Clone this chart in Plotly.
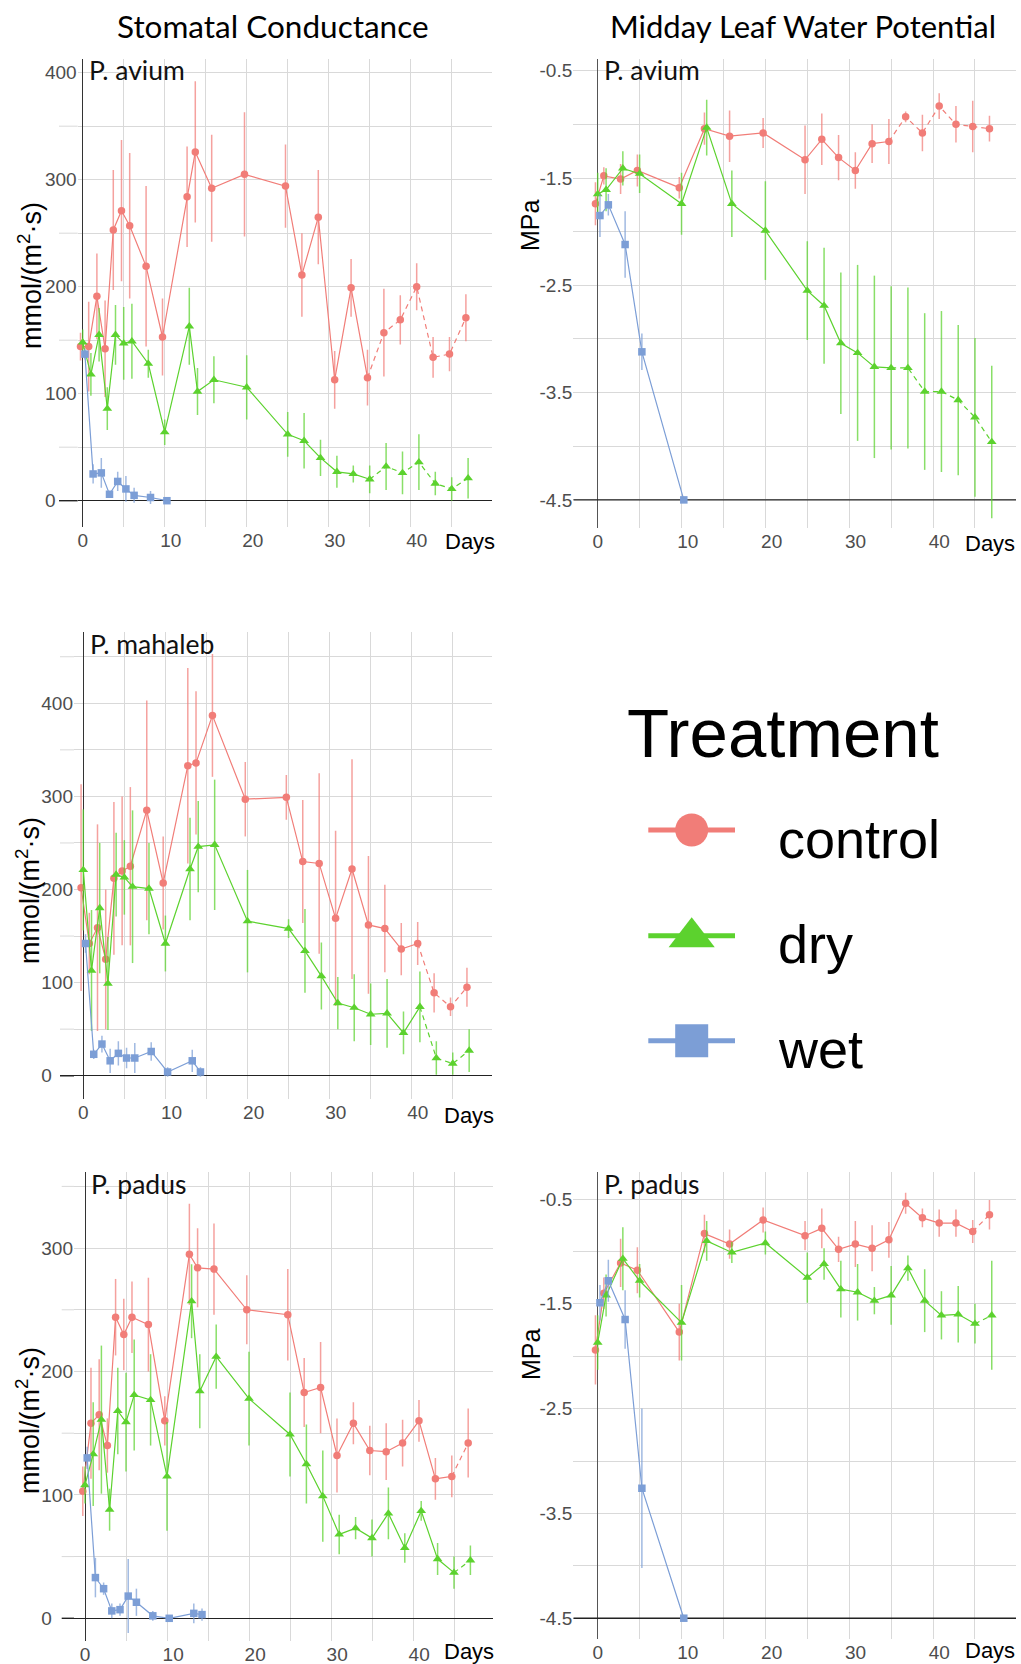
import plotly.graph_objects as go

W, H = 1021, 1664

# ---------------------------------------------------------------- data
# Sampling days (a small per-treatment offset is added when plotting)
GS_DAYS = [0, 1, 2, 3, 4, 5, 6, 8, 10, 13, 14, 16, 20, 25, 27, 29, 31, 33, 35, 37, 39, 41, 43, 45, 47]
PSI_DAYS = [0, 1, 3, 5, 10, 13, 16, 20, 25, 27, 29, 31, 33, 35, 37, 39, 41, 43, 45, 47]
AVIUM_WET_GS_DAYS = [0, 1, 2, 3, 4, 5, 6, 8, 10]
WET_GS_DAYS = [0, 1, 2, 3, 4, 5, 6, 8, 10, 13, 14]
WET_PSI_DAYS = [0, 1, 3, 5, 10]

# P. avium - stomatal conductance, mmol/(m2 s)
AVIUM_GS_CONTROL = [144, 144, 191, 142, 253, 271, 257, 219, 153, 284, 326, 292, 305, 294, 211, 265, 113, 199, 115, 157, 169, 200, 134, 137, 171]
AVIUM_GS_CONTROL_ERR = [13, 42, 40, 45, 56, 66, 68, 75, 36, 47, 66, 50, 58, 39, 39, 44, 27, 27, 26, 41, 23, 22, 19, 16, 22]
AVIUM_GS_DRY = [148, 118, 155, 86, 155, 147, 149, 128, 64, 163, 102, 113, 106, 62, 56, 40, 27, 25, 20, 32, 26, 36, 16, 11, 21]
AVIUM_GS_DRY_ERR = [12, 20, 25, 20, 28, 34, 35, 13, 12, 36, 22, 22, 30, 21, 26, 17, 15, 8, 13, 22, 20, 26, 11, 11, 19]
AVIUM_GS_WET = [137, 25, 26, 6, 18, 11, 5, 3, 0]
AVIUM_GS_WET_ERR = [5, 9, 14, 3, 9, 12, 7, 6, 2]

# P. avium - midday leaf water potential, MPa
AVIUM_PSI_CONTROL = [-1.74, -1.48, -1.51, -1.43, -1.59, -1.04, -1.11, -1.08, -1.33, -1.14, -1.31, -1.43, -1.18, -1.16, -0.93, -1.08, -0.83, -1.00, -1.02, -1.04]
AVIUM_PSI_CONTROL_ERR = [0.20, 0.08, 0.14, 0.15, 0.10, 0.15, 0.24, 0.14, 0.32, 0.24, 0.21, 0.17, 0.18, 0.21, 0.05, 0.17, 0.12, 0.17, 0.24, 0.12]
AVIUM_PSI_DRY = [-1.65, -1.61, -1.41, -1.46, -1.74, -1.03, -1.74, -1.99, -2.55, -2.69, -3.04, -3.13, -3.26, -3.27, -3.27, -3.49, -3.49, -3.57, -3.73, -3.96]
AVIUM_PSI_DRY_ERR = [0.20, 0.20, 0.16, 0.18, 0.29, 0.26, 0.31, 0.46, 0.46, 0.54, 0.66, 0.82, 0.85, 0.76, 0.75, 0.73, 0.75, 0.70, 0.74, 0.71]
AVIUM_PSI_WET = [-1.85, -1.75, -2.12, -3.12, -4.50]
AVIUM_PSI_WET_ERR = [0.20, 0.10, 0.31, 0.17, 0.0]

# P. mahaleb - stomatal conductance, mmol/(m2 s)
MAHALEB_GS_CONTROL = [202, 142, 159, 125, 212, 220, 225, 285, 207, 333, 336, 387, 297, 299, 230, 228, 169, 222, 162, 158, 136, 142, 89, 74, 95]
MAHALEB_GS_CONTROL_ERR = [111, 33, 111, 75, 82, 80, 85, 118, 50, 105, 77, 66, 40, 24, 66, 97, 94, 118, 74, 47, 28, 23, 21, 10, 21]
MAHALEB_GS_DRY = [221, 113, 180, 99, 216, 213, 203, 201, 142, 222, 246, 248, 166, 158, 134, 107, 78, 73, 66, 67, 46, 74, 19, 13, 27]
MAHALEB_GS_DRY_ERR = [65, 65, 70, 50, 45, 40, 82, 49, 30, 55, 49, 70, 55, 10, 45, 36, 28, 36, 33, 37, 23, 38, 18, 12, 23]
MAHALEB_GS_WET = [142, 23, 34, 16, 24, 19, 19, 26, 4, 16, 4]
MAHALEB_GS_WET_ERR = [10, 5, 9, 13, 13, 11, 16, 10, 5, 12, 5]

# P. padus - stomatal conductance, mmol/(m2 s)
PADUS_GS_CONTROL = [103, 158, 165, 140, 244, 230, 244, 238, 160, 295, 284, 283, 250, 246, 183, 187, 132, 158, 136, 135, 142, 160, 113, 115, 142]
PADUS_GS_CONTROL_ERR = [20, 45, 45, 22, 31, 29, 29, 38, 20, 41, 32, 37, 28, 37, 28, 37, 30, 17, 20, 23, 19, 17, 17, 17, 28]
PADUS_GS_DRY = [108, 133, 161, 88, 168, 159, 181, 177, 115, 257, 184, 212, 178, 149, 125, 99, 68, 73, 65, 85, 57, 87, 48, 37, 47]
PADUS_GS_DRY_ERR = [15, 42, 60, 17, 35, 40, 45, 37, 44, 30, 30, 26, 38, 34, 32, 37, 16, 9, 15, 21, 12, 8, 13, 13, 12]
PADUS_GS_WET = [130, 33, 24, 6, 7, 18, 13, 2, 0, 4, 3]
PADUS_GS_WET_ERR = [9, 16, 5, 6, 5, 30, 11, 4, 2, 8, 5]

# P. padus - midday leaf water potential, MPa
PADUS_PSI_CONTROL = [-1.94, -1.40, -1.11, -1.18, -1.77, -0.83, -0.93, -0.70, -0.85, -0.78, -0.98, -0.93, -0.97, -0.89, -0.54, -0.68, -0.73, -0.73, -0.81, -0.65]
PADUS_PSI_CONTROL_ERR = [0.33, 0.15, 0.23, 0.22, 0.27, 0.18, 0.14, 0.12, 0.14, 0.19, 0.12, 0.22, 0.22, 0.17, 0.10, 0.09, 0.13, 0.13, 0.11, 0.14]
PADUS_PSI_DRY = [-1.87, -1.42, -1.07, -1.28, -1.68, -0.90, -1.01, -0.92, -1.25, -1.12, -1.36, -1.39, -1.47, -1.42, -1.16, -1.47, -1.61, -1.60, -1.69, -1.61]
PADUS_PSI_DRY_ERR = [0.26, 0.20, 0.30, 0.16, 0.36, 0.19, 0.10, 0.11, 0.24, 0.15, 0.27, 0.27, 0.13, 0.28, 0.12, 0.30, 0.23, 0.27, 0.19, 0.52]
PADUS_PSI_WET = [-1.49, -1.28, -1.65, -3.26, -4.50]
PADUS_PSI_WET_ERR = [0.17, 0.20, 0.28, 0.76, 0.0]

TREATMENTS = ["control", "dry", "wet"]
X_TICK_DAYS = [0, 10, 20, 30, 40]
X_TICK_LABELS = ["0", "10", "20", "30", "40"]
GS_TICKS = [0, 100, 200, 300, 400]
PSI_TICKS = [-0.5, -1.5, -2.5, -3.5, -4.5]

# ---------------------------------------------------------------- style
COLORS = {"control": "#F17D78", "dry": "#5CD22E", "wet": "#7C9ED6"}
ERR_COLORS = {"control": "rgba(241,125,120,0.72)", "dry": "rgba(92,210,46,0.72)",
              "wet": "rgba(124,158,214,0.72)"}
SYMBOLS = {"control": "circle", "dry": "triangle-up", "wet": "square"}
MSIZE = {"control": 7.5, "dry": 8.5, "wet": 7.5}
DODGE = {"control": -0.27, "dry": 0.0, "wet": 0.27}
GRID = "#d9d9d9"
DARK = "#222222"
SANS = "Liberation Sans, Arial, sans-serif"
HEAD = "Lato, sans-serif"
TICKFONT = dict(family=SANS, size=19, color="#4d4d4d")
GS_TITLE = "mmol/(m<sup>2</sup>·s)"
NBSP = "\u00a0"

panels = [
    dict(kind="gs", label="P. avium", dash_from=35,
         box=(77.7, 492, 59, 527), stub=59, day0=82.7, ppd=8.2, ref=(0, 500.7, 1.07),
         series=[("control", GS_DAYS, AVIUM_GS_CONTROL, AVIUM_GS_CONTROL_ERR),
                 ("dry", GS_DAYS, AVIUM_GS_DRY, AVIUM_GS_DRY_ERR),
                 ("wet", AVIUM_WET_GS_DAYS, AVIUM_GS_WET, AVIUM_GS_WET_ERR)],
         label_xy=(87, 70.5), ytitle_xy=(30, 276), days_xy=(470, 541)),
    dict(kind="psi", label="P. avium", dash_from=35,
         box=(573.3, 1016, 59.3, 528.3), stub=None, day0=597.7, ppd=8.384, ref=(-0.5, 70.7, 107.3),
         series=[("control", PSI_DAYS, AVIUM_PSI_CONTROL, AVIUM_PSI_CONTROL_ERR),
                 ("dry", PSI_DAYS, AVIUM_PSI_DRY, AVIUM_PSI_DRY_ERR),
                 ("wet", WET_PSI_DAYS, AVIUM_PSI_WET, AVIUM_PSI_WET_ERR)],
         label_xy=(602, 70.5), ytitle_xy=(530, 225), days_xy=(990, 543)),
    dict(kind="gs", label="P. mahaleb", dash_from=41,
         box=(74, 492.3, 632.3, 1099.3), stub=60, day0=83.3, ppd=8.21, ref=(0, 1075.7, 0.931),
         series=[("control", GS_DAYS, MAHALEB_GS_CONTROL, MAHALEB_GS_CONTROL_ERR),
                 ("dry", GS_DAYS, MAHALEB_GS_DRY, MAHALEB_GS_DRY_ERR),
                 ("wet", WET_GS_DAYS, MAHALEB_GS_WET, MAHALEB_GS_WET_ERR)],
         label_xy=(87.5, 643.7), ytitle_xy=(28, 891), days_xy=(469, 1115)),
    dict(kind="gs", label="P. padus", dash_from=45,
         box=(74, 493.3, 1172.3, 1641), stub=61.7, day0=85, ppd=8.2, ref=(0, 1618.3, 1.234),
         series=[("control", GS_DAYS, PADUS_GS_CONTROL, PADUS_GS_CONTROL_ERR),
                 ("dry", GS_DAYS, PADUS_GS_DRY, PADUS_GS_DRY_ERR),
                 ("wet", WET_GS_DAYS, PADUS_GS_WET, PADUS_GS_WET_ERR)],
         label_xy=(89, 1183.8), ytitle_xy=(28, 1421), days_xy=(469, 1651)),
    dict(kind="psi", label="P. padus", dash_from=45,
         box=(573.3, 1016, 1172.3, 1639.3), stub=None, day0=597.7, ppd=8.384, ref=(-0.5, 1199, 104.8),
         series=[("control", PSI_DAYS, PADUS_PSI_CONTROL, PADUS_PSI_CONTROL_ERR),
                 ("dry", PSI_DAYS, PADUS_PSI_DRY, PADUS_PSI_DRY_ERR),
                 ("wet", WET_PSI_DAYS, PADUS_PSI_WET, PADUS_PSI_WET_ERR)],
         label_xy=(602, 1183.8), ytitle_xy=(531, 1354), days_xy=(990, 1650)),
]


def px(xp):
    return xp / W


def py(yp):
    return 1 - yp / H


def left_aligned(value):
    # pad short labels so that every label starts at the same x position
    s = str(value)
    return s + NBSP * (2 * (3 - len(s)))


fig = go.Figure()
layout = {}
shapes = []
annotations = []

for i, p in enumerate(panels, start=1):
    sx = "" if i == 1 else str(i)
    xref, yref = "x" + sx, "y" + sx
    left, right, top, bottom = p["box"]
    xr = [(left - p["day0"]) / p["ppd"], (right - p["day0"]) / p["ppd"]]
    v0, v0px, ppu = p["ref"]
    yr = [v0 - (bottom - v0px) / ppu, v0 + (v0px - top) / ppu]
    is_gs = p["kind"] == "gs"

    # the two-digit day labels sit slightly right of their grid line
    tick_pos = [d + (0.75 if d >= 10 else 0) for d in X_TICK_DAYS]
    layout["xaxis" + sx] = dict(
        domain=[px(left), px(right)], range=xr, anchor=yref,
        tickmode="array", tickvals=tick_pos, ticktext=X_TICK_LABELS,
        showgrid=False, ticks="", tickfont=TICKFONT,
        minor=dict(tickmode="array", tickvals=list(range(0, 50, 5)), showgrid=True,
                   gridcolor=GRID, gridwidth=1, ticks=""),
        zeroline=True, zerolinecolor="#333333" if is_gs else "#555555",
        zerolinewidth=1.4, showline=False, fixedrange=True,
    )
    if is_gs:
        majors = [t for t in GS_TICKS if yr[0] <= t <= yr[1]]
        minors = [t + 50 for t in GS_TICKS if yr[0] <= t + 50 <= yr[1]]
        ticktext = [left_aligned(t) for t in majors]
    else:
        majors = list(PSI_TICKS)
        minors = [t - 0.5 for t in PSI_TICKS[:-1]]
        ticktext = ["%.1f" % t for t in majors]
    layout["yaxis" + sx] = dict(
        domain=[py(bottom), py(top)], range=yr, anchor=xref,
        tickmode="array", tickvals=majors, ticktext=ticktext,
        showgrid=True, gridcolor=GRID, gridwidth=1, ticks="", tickfont=TICKFONT,
        minor=dict(tickmode="array", tickvals=minors, showgrid=True,
                   gridcolor=GRID, gridwidth=1, ticks=""),
        zeroline=is_gs, zerolinecolor=DARK, zerolinewidth=1.4,
        showline=False, fixedrange=True,
    )

    if is_gs:
        # minor grid lines and the zero line reach a little further left
        for m in minors:
            shapes.append(dict(type="line", xref="paper", yref=yref,
                               x0=px(p["stub"]), x1=px(left), y0=m, y1=m,
                               line=dict(color=GRID, width=1), layer="below"))
        shapes.append(dict(type="line", xref="paper", yref=yref,
                           x0=px(p["stub"]), x1=px(left), y0=0, y1=0,
                           line=dict(color=DARK, width=1.4), layer="below"))
    else:
        # dark baseline at the lowest labelled potential, under the data
        fig.add_trace(go.Scatter(x=xr, y=[PSI_TICKS[-1]] * 2, mode="lines",
                                 line=dict(color=DARK, width=1.4),
                                 xaxis=xref, yaxis=yref, showlegend=False, hoverinfo="skip"))

    for tr, days, vals, errs in p["series"]:
        xs = [d + DODGE[tr] for d in days]
        solid = [(x, v) for d, x, v in zip(days, xs, vals) if d <= p["dash_from"]]
        dashed = [(x, v) for d, x, v in zip(days, xs, vals) if d >= p["dash_from"]]
        for seg, dash in ((solid, "solid"), (dashed, "5px,4px")):
            if len(seg) > 1:
                fig.add_trace(go.Scatter(
                    x=[s[0] for s in seg], y=[s[1] for s in seg], mode="lines",
                    line=dict(color=COLORS[tr], width=1.2, dash=dash),
                    xaxis=xref, yaxis=yref, showlegend=False, hoverinfo="skip"))
        fig.add_trace(go.Scatter(
            x=xs, y=vals, mode="markers",
            marker=dict(symbol=SYMBOLS[tr], size=MSIZE[tr], color=COLORS[tr],
                        line=dict(width=0)),
            error_y=dict(type="data", array=errs, visible=True, width=0,
                         thickness=1.5, color=ERR_COLORS[tr]),
            cliponaxis=False, xaxis=xref, yaxis=yref, showlegend=False,
            name=tr, hoverinfo="skip"))

    lx, ly = p["label_xy"]
    annotations.append(dict(text=p["label"], x=px(lx), y=py(ly), xref="paper", yref="paper",
                            xanchor="left", yanchor="middle", showarrow=False,
                            font=dict(family=HEAD, size=26.5, color="#111111")))
    tx, ty = p["ytitle_xy"]
    annotations.append(dict(text=GS_TITLE if is_gs else "MPa",
                            x=px(tx), y=py(ty), xref="paper", yref="paper",
                            xanchor="center", yanchor="middle", textangle=-90,
                            showarrow=False,
                            font=dict(family=SANS, size=27 if is_gs else 25, color="#000000")))
    dx, dy = p["days_xy"]
    annotations.append(dict(text="Days", x=px(dx), y=py(dy), xref="paper", yref="paper",
                            xanchor="center", yanchor="middle", showarrow=False,
                            font=dict(family=SANS, size=22, color="#000000")))

# column headings
annotations.append(dict(text="Stomatal Conductance", x=px(272.5), y=py(25.5),
                        xref="paper", yref="paper", xanchor="center", yanchor="middle",
                        showarrow=False, font=dict(family=HEAD, size=31.5, color="#000000")))
annotations.append(dict(text="Midday Leaf Water Potential", x=px(802.5), y=py(25.5),
                        xref="paper", yref="paper", xanchor="center", yanchor="middle",
                        showarrow=False, font=dict(family=HEAD, size=31, color="#000000")))

# ---------------------------------------------------------------- legend
# drawn on a page-sized pixel axis pair
LEG = len(panels) + 1
lgx, lgy = "x%d" % LEG, "y%d" % LEG
layout["xaxis%d" % LEG] = dict(domain=[0, 1], range=[0, W], visible=False, fixedrange=True)
layout["yaxis%d" % LEG] = dict(domain=[0, 1], range=[H, 0], visible=False, fixedrange=True)
legend_rows = {"control": 830, "dry": 935.7, "wet": 1040.7}
legend_text_y = {"control": 839, "dry": 944, "wet": 1049}
legend_msize = {"control": 33, "dry": 40, "wet": 33}
for tr in TREATMENTS:
    yrow = legend_rows[tr]
    fig.add_trace(go.Scatter(x=[648.3, 735], y=[yrow, yrow], mode="lines",
                             line=dict(color=COLORS[tr], width=5),
                             xaxis=lgx, yaxis=lgy, showlegend=False, hoverinfo="skip"))
    fig.add_trace(go.Scatter(x=[691.7], y=[yrow + (1.5 if tr == "dry" else 0)], mode="markers",
                             marker=dict(symbol=SYMBOLS[tr], size=legend_msize[tr],
                                         color=COLORS[tr], line=dict(width=0)),
                             xaxis=lgx, yaxis=lgy, showlegend=False, hoverinfo="skip"))
    annotations.append(dict(text=tr, x=px(776), y=py(legend_text_y[tr]), xref="paper",
                            yref="paper", xanchor="left", yanchor="middle", showarrow=False,
                            font=dict(family=SANS, size=54, color="#000000")))
annotations.append(dict(text="Treatment", x=px(625), y=py(733.7), xref="paper", yref="paper",
                        xanchor="left", yanchor="middle", showarrow=False,
                        font=dict(family=SANS, size=69, color="#000000")))

fig.update_layout(
    width=W, height=H, margin=dict(l=0, r=0, t=0, b=0),
    paper_bgcolor="white", plot_bgcolor="rgba(0,0,0,0)",
    showlegend=False, hovermode=False,
    shapes=shapes, annotations=annotations, **layout,
)
fig.write_html("out.html", config={"displayModeBar": False})
